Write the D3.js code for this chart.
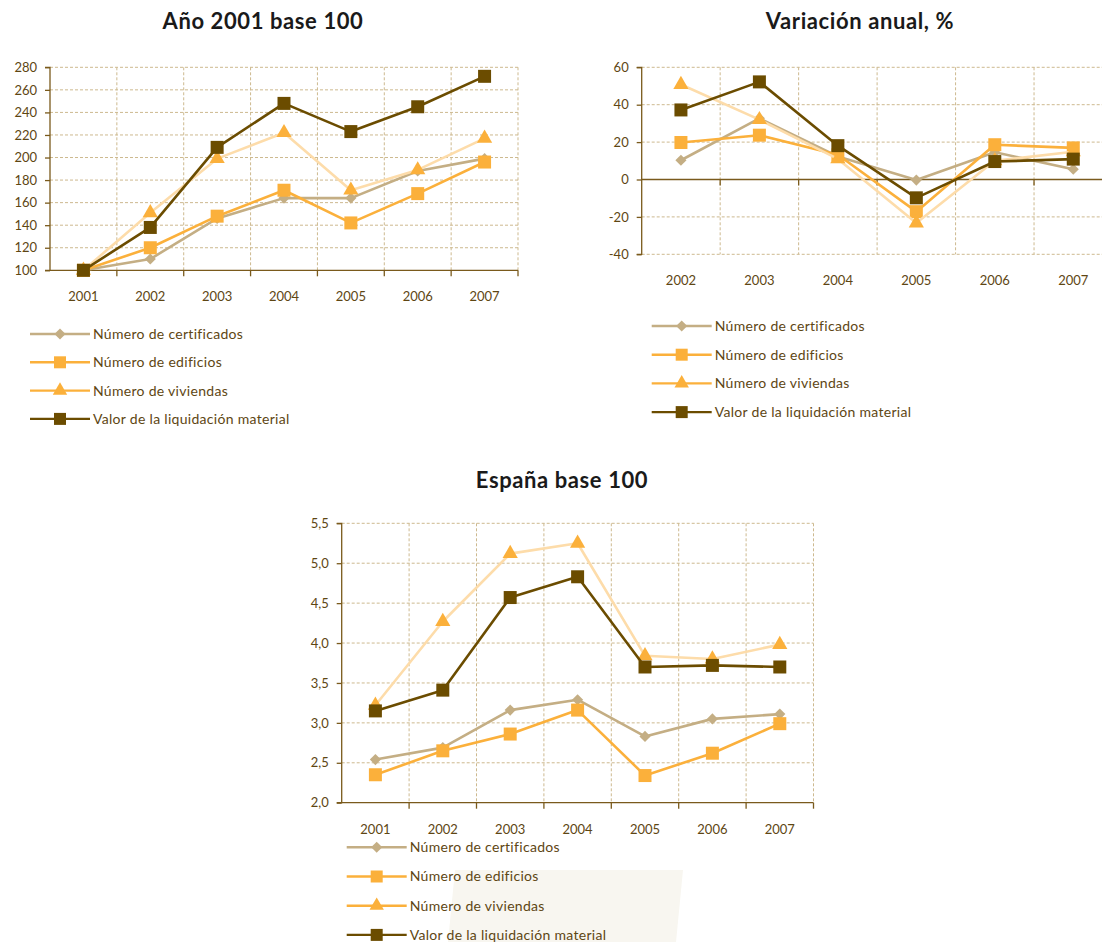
<!DOCTYPE html>
<html><head><meta charset="utf-8">
<script src="https://cdn.jsdelivr.net/npm/d3@7"></script>
<style>
html,body{margin:0;padding:0;background:#fff;}
svg{display:block;font-family:Lato,"Open Sans",sans-serif;}
</style></head>
<body>
<svg id="c" width="1102" height="942"></svg>
<script>
// ---------- DATA ----------
const seriesNames = ["Número de certificados","Número de edificios","Número de viviendas","Valor de la liquidación material"];
const years1 = ["2001","2002","2003","2004","2005","2006","2007"];
const years2 = ["2002","2003","2004","2005","2006","2007"];
const years3 = ["2001","2002","2003","2004","2005","2006","2007"];

// Año 2001 base 100
const base_cert  = [100,110,146,164,164,188,199];
const base_edif  = [100,120,148,171,142,168,196];
const base_viv   = [100,151,199,222,171,189,217];
const base_valor = [100,138,209,248,223,245,272];

// Variación anual, %
const var_cert  = [10.3,32.7,12.3,-0.3,14.6,5.5];
const var_edif  = [19.8,23.7,13.2,-17.2,18.6,16.9];
const var_viv   = [50.8,32.0,11.0,-23.3,10.0,14.8];
const var_valor = [37.2,52.2,18.1,-9.8,9.6,10.9];

// España base 100
const esp_cert  = [2.54,2.69,3.16,3.29,2.83,3.05,3.11];
const esp_edif  = [2.35,2.65,2.86,3.16,2.34,2.62,2.99];
const esp_viv   = [3.22,4.27,5.12,5.25,3.84,3.80,3.98];
const esp_valor = [3.15,3.41,4.57,4.83,3.70,3.72,3.70];

const ticks1 = [100,120,140,160,180,200,220,240,260,280];
const ticks2 = [-40,-20,0,20,40,60];
const ticks3 = [2.0,2.5,3.0,3.5,4.0,4.5,5.0,5.5];

// ---------- STYLE ----------
const C_CERT = "#C4AE84", C_EDIF = "#FBB03B", C_VIVL = "#FDDCAA", C_VIVM = "#FBB03B", C_VALOR = "#6B4C00";
const TXT = "#5E4613", AXIS = "#7A5A1C", GRID = "#CDB98F";
const styles = [
  {line:C_CERT, mark:C_CERT, shape:"diamond"},
  {line:C_EDIF, mark:C_EDIF, shape:"square"},
  {line:C_VIVL, mark:C_VIVM, shape:"triangle"},
  {line:C_VALOR, mark:C_VALOR, shape:"square"}
];
const legendStyles = [
  {line:C_CERT, mark:C_CERT, shape:"diamond"},
  {line:C_EDIF, mark:C_EDIF, shape:"square"},
  {line:C_EDIF, mark:C_VIVM, shape:"triangle"},
  {line:C_VALOR, mark:C_VALOR, shape:"square"}
];

const svg = d3.select("#c");

// decorative faint background shape
svg.append("path").attr("d","M455,870 L683,870 L676,942 L448,942 Z").attr("fill","#F8F6F0");

function markerPath(shape, big){
  if(shape==="square") return d3.symbol(d3.symbolSquare, big?169:144)();
  if(shape==="diamond") return d3.symbol(d3.symbolSquare, 62)();
  return d3.symbol(d3.symbolTriangle, big?100:90)();
}

function drawChart(cfg){
  const g = svg.append("g");
  const x = d3.scaleBand().domain(cfg.cats).range(cfg.xr).padding(0);
  const y = d3.scaleLinear().domain(cfg.yd).range(cfg.yr);
  const [x0,x1] = cfg.xr, [yb,yt] = cfg.yr;
  // title
  g.append("text").attr("x",cfg.titleX).attr("y",cfg.titleY).attr("text-anchor","middle")
    .attr("font-size",22).attr("letter-spacing","0.6").attr("font-weight","bold").attr("fill","#1a1a1a").text(cfg.title);
  // horizontal grid
  g.append("g").selectAll("line").data(cfg.ticks.filter(t=>t!==cfg.axisVal)).join("line")
    .attr("x1",x0).attr("x2",x1).attr("y1",d=>y(d)).attr("y2",d=>y(d))
    .attr("stroke",GRID).attr("stroke-width",1).attr("stroke-dasharray","3,2");
  // vertical grid at band boundaries
  const bounds = cfg.cats.map(c=>x(c)+x.bandwidth());
  g.append("g").selectAll("line").data(bounds).join("line")
    .attr("x1",d=>d).attr("x2",d=>d).attr("y1",yt).attr("y2",yb)
    .attr("stroke",GRID).attr("stroke-width",1).attr("stroke-dasharray","3,2");
  // y axis
  const yAxis = d3.axisLeft(y).tickValues(cfg.ticks).tickSize(5).tickPadding(8).tickFormat(cfg.fmt);
  const ya = g.append("g").attr("transform",`translate(${x0},0)`).call(yAxis);
  ya.select(".domain").attr("stroke",AXIS).attr("stroke-width",1.3).attr("d",`M-5,${yb}H0V${yt}H-5`);
  ya.selectAll(".tick line").attr("stroke",AXIS).attr("stroke-width",1.3);
  ya.selectAll(".tick text").attr("fill",TXT).attr("font-size",13).attr("font-family","Lato,sans-serif");
  // x axis line at axisVal
  const ay = y(cfg.axisVal);
  const xAxis = d3.axisBottom(x).tickSize(0).tickFormat(()=>"");
  const xa = g.append("g").attr("transform",`translate(0,${ay})`).call(xAxis);
  xa.select(".domain").attr("stroke",AXIS).attr("stroke-width",1.3).attr("d",`M${x0},0H${x1}`);
  xa.append("g").selectAll("line").data(bounds).join("line")
    .attr("x1",d=>d).attr("x2",d=>d).attr("y1",0).attr("y2",6).attr("stroke",AXIS).attr("stroke-width",1.3);
  // x labels at bottom
  g.append("g").selectAll("text").data(cfg.cats).join("text")
    .attr("x",d=>x(d)+x.bandwidth()/2).attr("y",yb+31).attr("text-anchor","middle")
    .attr("fill",TXT).attr("font-size",13).text(d=>d);
  // series
  const line = d3.line().x((d,i)=>x(cfg.cats[i])+x.bandwidth()/2).y(d=>y(d));
  cfg.series.forEach((vals,si)=>{
    const st = styles[si];
    g.append("path").datum(vals).attr("d",line).attr("fill","none")
      .attr("stroke",st.line).attr("stroke-width",2.6).attr("stroke-linejoin","round");
    g.append("g").selectAll("path").data(vals).join("path")
      .attr("d",markerPath(st.shape,true))
      .attr("transform",(d,i)=>`translate(${x(cfg.cats[i])+x.bandwidth()/2},${y(d)})${st.shape==="diamond"?" rotate(45)":""}`)
      .attr("fill",st.mark);
  });
  // legend
  const lg = g.append("g");
  seriesNames.forEach((name,i)=>{
    const st = legendStyles[i];
    const ly = cfg.legY + i*cfg.legStep;
    lg.append("line").attr("x1",cfg.legX).attr("x2",cfg.legX+60).attr("y1",ly).attr("y2",ly)
      .attr("stroke",st.line).attr("stroke-width",2.4);
    lg.append("path").attr("d",markerPath(st.shape,false))
      .attr("transform",`translate(${cfg.legX+30},${ly})${st.shape==="diamond"?" rotate(45)":""}`).attr("fill",st.mark);
    lg.append("text").attr("x",cfg.legX+63).attr("y",ly).attr("dy","0.35em")
      .attr("fill",TXT).attr("font-size",14).attr("letter-spacing","0.3").text(name);
  });
}

drawChart({title:"Año 2001 base 100", titleX:263, titleY:29,
  cats:years1, xr:[50,518], yd:[100,280], yr:[270.3,67.3], ticks:ticks1, axisVal:100,
  fmt:d=>String(d), series:[base_cert,base_edif,base_viv,base_valor],
  legX:30, legY:334, legStep:28.3});

drawChart({title:"Variación anual, %", titleX:860, titleY:29,
  cats:years2, xr:[641.7,1112.5], yd:[-40,60], yr:[254.3,67.3], ticks:ticks2, axisVal:0,
  fmt:d=>String(d), series:[var_cert,var_edif,var_viv,var_valor],
  legX:651.7, legY:326, legStep:28.7});

drawChart({title:"España base 100", titleX:562, titleY:488,
  cats:years3, xr:[341.7,813.5], yd:[2,5.5], yr:[802.7,523.3], ticks:ticks3, axisVal:2,
  fmt:d=>d3.format(".1f")(d).replace(".",","), series:[esp_cert,esp_edif,esp_viv,esp_valor],
  legX:346.7, legY:847.3, legStep:29.2});
</script>
</body></html>
